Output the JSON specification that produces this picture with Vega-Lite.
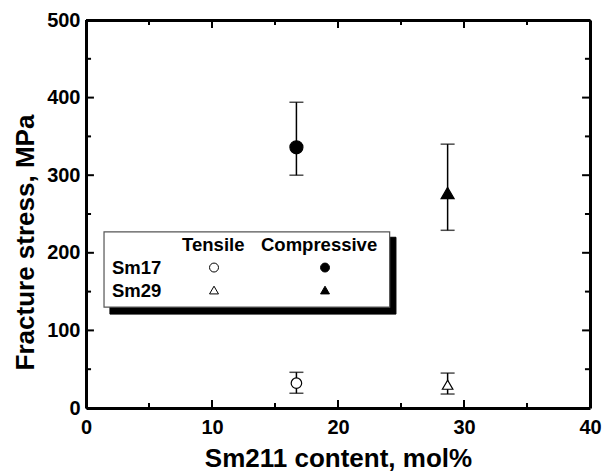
{
  "$schema": "https://vega.github.io/schema/vega-lite/v6.json",
  "width": 504,
  "height": 388,
  "autosize": {"type": "none"},
  "padding": {"left": 86, "top": 20, "right": 14, "bottom": 65},
  "background": "white",
  "config": {
    "view": {"stroke": null},
    "font": "Liberation Sans",
    "axis": {
      "domainColor": "black",
      "domainWidth": 3,
      "ticks": false,
      "grid": false,
      "labelFont": "Liberation Sans",
      "labelFontWeight": "bold",
      "labelFontSize": 20,
      "labelColor": "black",
      "titleFont": "Liberation Sans",
      "titleFontWeight": "bold",
      "titleFontSize": 26,
      "titleColor": "black"
    }
  },
  "datasets": {
    "stress": [
      {"sample": "Sm17", "test": "Compressive", "content": 16.7, "stress": 336, "low": 300, "high": 394},
      {"sample": "Sm29", "test": "Compressive", "content": 28.7, "stress": 277, "low": 229, "high": 340},
      {"sample": "Sm17", "test": "Tensile", "content": 16.7, "stress": 32, "low": 19, "high": 46},
      {"sample": "Sm29", "test": "Tensile", "content": 28.7, "stress": 30, "low": 18, "high": 45}
    ],
    "ticksX": [
      {"at": 0, "kind": "major"}, {"at": 5, "kind": "minor"}, {"at": 10, "kind": "major"},
      {"at": 15, "kind": "minor"}, {"at": 20, "kind": "major"}, {"at": 25, "kind": "minor"},
      {"at": 30, "kind": "major"}, {"at": 35, "kind": "minor"}, {"at": 40, "kind": "major"}
    ],
    "ticksY": [
      {"at": 0, "kind": "major"}, {"at": 50, "kind": "minor"}, {"at": 100, "kind": "major"},
      {"at": 150, "kind": "minor"}, {"at": 200, "kind": "major"}, {"at": 250, "kind": "minor"},
      {"at": 300, "kind": "major"}, {"at": 350, "kind": "minor"}, {"at": 400, "kind": "major"},
      {"at": 450, "kind": "minor"}, {"at": 500, "kind": "major"}
    ],
    "keyBox": [
      {"part": "shadow", "x1": 1.9, "x2": 24.6, "y1": 121, "y2": 220},
      {"part": "box", "x1": 1.43, "x2": 24.1, "y1": 130, "y2": 227}
    ],
    "keyText": [
      {"role": "header", "label": "Tensile", "content": 10.1, "stress": 210},
      {"role": "header", "label": "Compressive", "content": 18.5, "stress": 210},
      {"role": "row", "label": "Sm17", "content": 2.06, "stress": 180},
      {"role": "row", "label": "Sm29", "content": 2.06, "stress": 151}
    ],
    "keySymbols": [
      {"sample": "Sm17", "test": "Tensile", "content": 10.16, "stress": 181},
      {"sample": "Sm17", "test": "Compressive", "content": 18.97, "stress": 181},
      {"sample": "Sm29", "test": "Tensile", "content": 10.16, "stress": 152},
      {"sample": "Sm29", "test": "Compressive", "content": 18.97, "stress": 152}
    ]
  },
  "resolve": {"axis": {"x": "independent", "y": "independent"}},
  "layer": [
    {
      "data": {"name": "stress"},
      "mark": {"type": "rule", "color": "black", "strokeWidth": 1.5},
      "encoding": {
        "x": {
          "field": "content", "type": "quantitative",
          "scale": {"domain": [0, 40], "nice": false, "zero": false},
          "axis": {
            "orient": "bottom",
            "title": "Sm211 content, mol%",
            "values": [0, 10, 20, 30, 40],
            "labelPadding": 9,
            "titlePadding": 8,
            "labelFlush": false
          }
        },
        "y": {
          "field": "low", "type": "quantitative",
          "scale": {"domain": [0, 500], "nice": false, "zero": false},
          "axis": {
            "orient": "left",
            "title": "Fracture stress, MPa",
            "values": [0, 100, 200, 300, 400, 500],
            "labelPadding": 6,
            "titlePadding": 8,
            "titleY": 222,
            "labelFlush": false
          }
        },
        "y2": {"field": "high"}
      }
    },
    {
      "data": {"name": "stress"},
      "mark": {"type": "tick", "orient": "horizontal", "color": "black", "thickness": 1.5, "size": 14},
      "encoding": {
        "x": {
          "field": "content", "type": "quantitative",
          "axis": {"orient": "top", "title": null, "labels": false, "values": []}
        },
        "y": {
          "field": "high", "type": "quantitative",
          "axis": {"orient": "right", "title": null, "labels": false, "values": []}
        }
      }
    },
    {
      "data": {"name": "stress"},
      "mark": {"type": "tick", "orient": "horizontal", "color": "black", "thickness": 1.5, "size": 14},
      "encoding": {
        "x": {"field": "content", "type": "quantitative", "axis": null},
        "y": {"field": "low", "type": "quantitative", "axis": null}
      }
    },
    {
      "data": {"name": "ticksX"},
      "transform": [{"filter": "datum.kind === 'major'"}],
      "layer": [
        {"mark": {"type": "rule", "color": "black", "strokeWidth": 2},
         "encoding": {"x": {"field": "at", "type": "quantitative", "axis": null}, "y": {"datum": 0, "axis": null}, "y2": {"datum": 10.3}}},
        {"mark": {"type": "rule", "color": "black", "strokeWidth": 2},
         "encoding": {"x": {"field": "at", "type": "quantitative", "axis": null}, "y": {"datum": 500, "axis": null}, "y2": {"datum": 489.7}}}
      ]
    },
    {
      "data": {"name": "ticksX"},
      "transform": [{"filter": "datum.kind === 'minor'"}],
      "layer": [
        {"mark": {"type": "rule", "color": "black", "strokeWidth": 2},
         "encoding": {"x": {"field": "at", "type": "quantitative", "axis": null}, "y": {"datum": 0, "axis": null}, "y2": {"datum": 6.4}}},
        {"mark": {"type": "rule", "color": "black", "strokeWidth": 2},
         "encoding": {"x": {"field": "at", "type": "quantitative", "axis": null}, "y": {"datum": 500, "axis": null}, "y2": {"datum": 493.6}}}
      ]
    },
    {
      "data": {"name": "ticksY"},
      "transform": [{"filter": "datum.kind === 'major'"}],
      "layer": [
        {"mark": {"type": "rule", "color": "black", "strokeWidth": 2},
         "encoding": {"y": {"field": "at", "type": "quantitative", "axis": null}, "x": {"datum": 0, "axis": null}, "x2": {"datum": 0.63}}},
        {"mark": {"type": "rule", "color": "black", "strokeWidth": 2},
         "encoding": {"y": {"field": "at", "type": "quantitative", "axis": null}, "x": {"datum": 40, "axis": null}, "x2": {"datum": 39.37}}}
      ]
    },
    {
      "data": {"name": "ticksY"},
      "transform": [{"filter": "datum.kind === 'minor'"}],
      "layer": [
        {"mark": {"type": "rule", "color": "black", "strokeWidth": 2},
         "encoding": {"y": {"field": "at", "type": "quantitative", "axis": null}, "x": {"datum": 0, "axis": null}, "x2": {"datum": 0.4}}},
        {"mark": {"type": "rule", "color": "black", "strokeWidth": 2},
         "encoding": {"y": {"field": "at", "type": "quantitative", "axis": null}, "x": {"datum": 40, "axis": null}, "x2": {"datum": 39.6}}}
      ]
    },
    {
      "data": {"name": "stress"},
      "mark": {"type": "point", "stroke": "black", "strokeWidth": 1.2, "opacity": 1, "filled": false},
      "encoding": {
        "x": {"field": "content", "type": "quantitative", "axis": null},
        "y": {"field": "stress", "type": "quantitative", "axis": null},
        "shape": {"field": "sample", "type": "nominal", "scale": {"domain": ["Sm17", "Sm29"], "range": ["circle", "triangle-up"]}, "legend": null},
        "fill": {"field": "test", "type": "nominal", "scale": {"domain": ["Tensile", "Compressive"], "range": ["white", "black"]}, "legend": null},
        "size": {"field": "test", "type": "nominal", "scale": {"domain": ["Tensile", "Compressive"], "range": [110, 170]}, "legend": null}
      }
    },
    {
      "data": {"name": "keyBox"},
      "transform": [{"filter": "datum.part === 'shadow'"}],
      "mark": {"type": "rect", "fill": "black", "stroke": "black", "strokeWidth": 1},
      "encoding": {
        "x": {"field": "x1", "type": "quantitative", "axis": null},
        "x2": {"field": "x2"},
        "y": {"field": "y1", "type": "quantitative", "axis": null},
        "y2": {"field": "y2"}
      }
    },
    {
      "data": {"name": "keyBox"},
      "transform": [{"filter": "datum.part === 'box'"}],
      "mark": {"type": "rect", "fill": "white", "stroke": "#555555", "strokeWidth": 1.2},
      "encoding": {
        "x": {"field": "x1", "type": "quantitative", "axis": null},
        "x2": {"field": "x2"},
        "y": {"field": "y1", "type": "quantitative", "axis": null},
        "y2": {"field": "y2"}
      }
    },
    {
      "data": {"name": "keyText"},
      "transform": [{"filter": "datum.role === 'header'"}],
      "mark": {"type": "text", "fontWeight": "bold", "fontSize": 18.5, "color": "black", "baseline": "middle", "align": "center"},
      "encoding": {
        "x": {"field": "content", "type": "quantitative", "axis": null},
        "y": {"field": "stress", "type": "quantitative", "axis": null},
        "text": {"field": "label"}
      }
    },
    {
      "data": {"name": "keyText"},
      "transform": [{"filter": "datum.role === 'row'"}],
      "mark": {"type": "text", "fontWeight": "bold", "fontSize": 18.5, "color": "black", "baseline": "middle", "align": "left"},
      "encoding": {
        "x": {"field": "content", "type": "quantitative", "axis": null},
        "y": {"field": "stress", "type": "quantitative", "axis": null},
        "text": {"field": "label"}
      }
    },
    {
      "data": {"name": "keySymbols"},
      "mark": {"type": "point", "stroke": "black", "strokeWidth": 1, "opacity": 1, "filled": false},
      "encoding": {
        "x": {"field": "content", "type": "quantitative", "axis": null},
        "y": {"field": "stress", "type": "quantitative", "axis": null},
        "shape": {"field": "sample", "type": "nominal", "legend": null},
        "fill": {"field": "test", "type": "nominal", "legend": null},
        "size": {"value": 80}
      }
    }
  ]
}
